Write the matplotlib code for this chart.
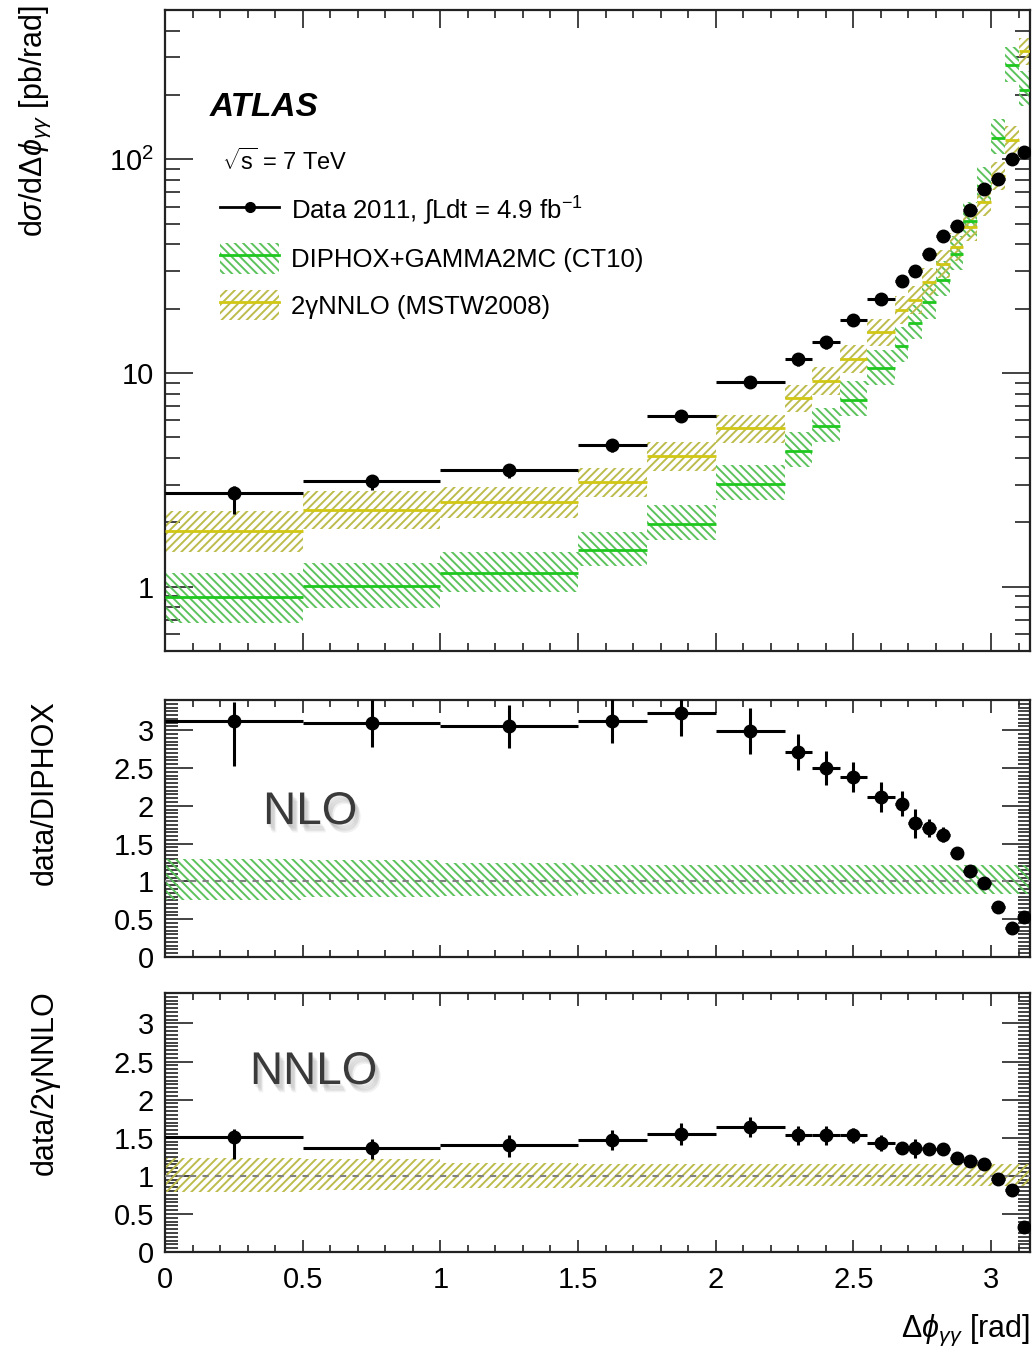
import numpy as np
import matplotlib
matplotlib.use("Agg")
import matplotlib.pyplot as plt
import matplotlib.patheffects as pe
from matplotlib.lines import Line2D
from matplotlib.patches import Patch
from matplotlib.ticker import MultipleLocator, LogLocator, FuncFormatter, NullFormatter

plt.rcParams['font.family'] = ['Liberation Sans', 'DejaVu Sans']
plt.rcParams['mathtext.fontset'] = 'custom'
plt.rcParams['mathtext.rm'] = 'Liberation Sans'
plt.rcParams['mathtext.it'] = 'Liberation Sans:italic'
plt.rcParams['mathtext.bf'] = 'Liberation Sans:bold'
plt.rcParams['hatch.linewidth'] = 1.4

# delta phi binning (rad)
bin_edges = [0.0, 0.5, 1.0, 1.5, 1.75, 2.0, 2.25, 2.35, 2.45, 2.55, 2.65,
             2.70, 2.75, 2.80, 2.85, 2.90, 2.95, 3.00, 3.05, 3.10, np.pi]

# measured cross section [pb/rad]
data_xsec = [2.75, 3.14, 3.53, 4.58, 6.30, 9.12, 11.6, 13.9, 17.7, 22.2,
             26.9, 30.0, 36.0, 43.7, 48.6, 57.8, 72.4, 80.7, 100.0, 108.0]
data_err_up = [0.20, 0.18, 0.20, 0.30, 0.40, 0.60, 0.8, 0.9, 1.0, 1.2,
               1.4, 1.7, 1.6, 1.8, 1.6, 1.8, 2.0, 2.2, 2.5, 2.7]
data_err_dn = [0.55, 0.30, 0.30, 0.30, 0.40, 0.60, 0.8, 0.9, 1.0, 1.2,
               1.4, 1.7, 1.6, 1.8, 1.6, 1.8, 2.0, 2.2, 2.5, 2.7]

# DIPHOX+GAMMA2MC prediction and relative uncertainty
diphox = [0.89, 1.01, 1.16, 1.48, 1.97, 3.03, 4.33, 5.65, 7.5, 10.5,
          13.4, 17.1, 21.4, 27.3, 36.0, 51.6, 75.4, 126.0, 275.0, 212.0]
diphox_rel_up = [0.30, 0.28, 0.25, 0.22, 0.22, 0.22, 0.22, 0.22, 0.22, 0.22,
                 0.22, 0.22, 0.22, 0.22, 0.22, 0.22, 0.22, 0.22, 0.22, 0.22]
diphox_rel_dn = [0.24, 0.21, 0.19, 0.16, 0.16, 0.16, 0.16, 0.16, 0.16, 0.16,
                 0.16, 0.16, 0.16, 0.16, 0.16, 0.16, 0.16, 0.16, 0.16, 0.16]

# 2gammaNNLO prediction and relative uncertainty
nnlo = [1.83, 2.29, 2.49, 3.09, 4.11, 5.51, 7.6, 9.2, 11.6, 15.5,
        19.7, 22.0, 26.7, 32.4, 39.0, 48.0, 63.0, 84.0, 123.0, 320.0]
nnlo_rel_up = [0.24, 0.22, 0.17, 0.16, 0.16, 0.16, 0.16, 0.16, 0.16, 0.16,
               0.16, 0.16, 0.16, 0.16, 0.16, 0.16, 0.16, 0.16, 0.16, 0.16]
nnlo_rel_dn = [0.21, 0.19, 0.16, 0.15, 0.15, 0.15, 0.14, 0.14, 0.14, 0.14,
               0.14, 0.14, 0.14, 0.14, 0.14, 0.14, 0.14, 0.14, 0.14, 0.14]

# data / DIPHOX
ratio_nlo = [3.12, 3.09, 3.05, 3.12, 3.23, 2.99, 2.71, 2.50, 2.38, 2.12,
             2.03, 1.77, 1.71, 1.62, 1.37, 1.14, 0.98, 0.66, 0.39, 0.53]
ratio_nlo_up = [0.25, 0.31, 0.29, 0.29, 0.30, 0.30, 0.24, 0.22, 0.20, 0.20,
                0.17, 0.19, 0.12, 0.10, 0.06, 0.05, 0.04, 0.03, 0.03, 0.03]
ratio_nlo_dn = [0.59, 0.31, 0.29, 0.29, 0.30, 0.30, 0.24, 0.22, 0.20, 0.20,
                0.17, 0.19, 0.12, 0.10, 0.06, 0.05, 0.04, 0.03, 0.03, 0.03]

# data / 2gammaNNLO
ratio_nnlo = [1.51, 1.37, 1.41, 1.47, 1.55, 1.64, 1.53, 1.53, 1.53, 1.43,
              1.36, 1.36, 1.35, 1.35, 1.24, 1.20, 1.15, 0.96, 0.81, 0.33]
ratio_nnlo_up = [0.11, 0.11, 0.12, 0.13, 0.14, 0.13, 0.12, 0.12, 0.10, 0.10,
                 0.08, 0.12, 0.07, 0.06, 0.04, 0.04, 0.03, 0.03, 0.03, 0.03]
ratio_nnlo_dn = [0.29, 0.15, 0.16, 0.13, 0.14, 0.13, 0.12, 0.12, 0.10, 0.10,
                 0.08, 0.12, 0.07, 0.06, 0.04, 0.04, 0.03, 0.03, 0.03, 0.03]

edges = np.array(bin_edges)
lo, hi = edges[:-1], edges[1:]
centers = 0.5 * (lo + hi)
widths = hi - lo

green_hatch = '#5cc25c'
green_line = '#1ec81e'
yellow_hatch = '#bcbc4c'
yellow_line = '#d2c814'
green_pattern = '\\\\\\\\'
yellow_pattern = '////'

W, H = 1033, 1356
fig = plt.figure(figsize=(W / 100, H / 100), dpi=100)


def px_axes(left, top, right, bottom):
    return fig.add_axes([left / W, 1 - bottom / H, (right - left) / W, (bottom - top) / H])


ax_top = px_axes(165, 10, 1030, 651)
ax_nlo = px_axes(165, 700, 1030, 957)
ax_nnlo = px_axes(165, 993, 1030, 1252)


def draw_band(ax, central, rel_up, rel_dn, hatch, hcolor, lcolor=None):
    central = np.array(central)
    upper = central * (1 + np.array(rel_up))
    lower = central * (1 - np.array(rel_dn))
    ax.bar(lo, upper - lower, width=widths, bottom=lower, align='edge',
           fill=False, hatch=hatch, edgecolor=hcolor, linewidth=0, zorder=2)
    if lcolor is not None:
        ax.hlines(central, lo, hi, colors=lcolor, linewidth=2.0, zorder=3)


def draw_points(ax, y, dn, up):
    ax.errorbar(centers, y, xerr=widths / 2, yerr=[dn, up], fmt='o', color='black',
                ms=9, elinewidth=2.2, capsize=0, zorder=5)


def style_frame(ax):
    for s in ax.spines.values():
        s.set_linewidth(1.6)
        s.set_color('#222222')
    ax.set_xlim(0, np.pi)
    ax.xaxis.set_major_locator(MultipleLocator(0.5))
    ax.xaxis.set_minor_locator(MultipleLocator(0.1))
    ax.tick_params(which='both', direction='in', top=True, right=True, width=1.2,
                   color='#222222', labelsize=21)


# soft drop shadow for the NLO / NNLO tags
shadow = [pe.SimplePatchShadow(offset=(dx, -dy), shadow_rgbFace='#8c8c8c', alpha=0.12)
          for dx, dy in [(1, 2), (2, 3), (3, 4), (3, 5), (4, 6)]] + [pe.Normal()]

# upper panel: cross section
draw_band(ax_top, diphox, diphox_rel_up, diphox_rel_dn, green_pattern, green_hatch, green_line)
draw_band(ax_top, nnlo, nnlo_rel_up, nnlo_rel_dn, yellow_pattern, yellow_hatch, yellow_line)
draw_points(ax_top, data_xsec, data_err_dn, data_err_up)
style_frame(ax_top)
ax_top.set_yscale('log')
ax_top.set_ylim(0.5, 500)
ax_top.yaxis.set_major_locator(LogLocator(base=10))
ax_top.yaxis.set_minor_locator(LogLocator(base=10, subs=np.arange(2, 10)))
ax_top.yaxis.set_minor_formatter(NullFormatter())
ax_top.yaxis.set_major_formatter(FuncFormatter(
    lambda v, p: {1: '1', 10: '10', 100: '$10^{2}$'}.get(int(round(v)), '')))
ax_top.tick_params(axis='y', which='major', length=20, pad=8)
ax_top.tick_params(axis='y', which='minor', length=11)
ax_top.tick_params(axis='x', which='major', length=13, labelbottom=False)
ax_top.tick_params(axis='x', which='minor', length=6)

ax_top.text(0.052, 0.848, 'ATLAS', transform=ax_top.transAxes, fontsize=24,
            fontweight='bold', fontstyle='italic', va='center', ha='left')
ax_top.text(0.066, 0.763, r'$\sqrt{\mathrm{s}}$ = 7 TeV', transform=ax_top.transAxes,
            fontsize=17, va='center', ha='left')

handles = [
    Line2D([], [], color='black', marker='o', ms=7, lw=2),
    (Patch(fill=False, hatch=green_pattern, edgecolor=green_hatch, linewidth=0),
     Line2D([], [], color=green_line, lw=2)),
    (Patch(fill=False, hatch=yellow_pattern, edgecolor=yellow_hatch, linewidth=0),
     Line2D([], [], color=yellow_line, lw=2)),
]
labels = [r'Data 2011, $\int$Ldt = 4.9 fb$^{-1}$',
          'DIPHOX+GAMMA2MC (CT10)',
          '2\u03b3NNLO (MSTW2008)']
ax_top.legend(handles, labels, loc='upper left', bbox_to_anchor=(0.064, 0.712),
              frameon=False, fontsize=18.5, borderpad=0, borderaxespad=0,
              handlelength=2.3, handleheight=1.45, handletextpad=0.45,
              labelspacing=0.62)

# ratio panels
for ax, ratio, r_dn, r_up, rel_up, rel_dn, hatch, hc, tag, tag_pos in [
        (ax_nlo, ratio_nlo, ratio_nlo_dn, ratio_nlo_up, diphox_rel_up, diphox_rel_dn,
         green_pattern, green_hatch, 'NLO', (0.168, 0.564)),
        (ax_nnlo, ratio_nnlo, ratio_nnlo_dn, ratio_nnlo_up, nnlo_rel_up, nnlo_rel_dn,
         yellow_pattern, yellow_hatch, 'NNLO', (0.172, 0.695))]:
    draw_band(ax, np.ones(len(centers)), rel_up, rel_dn, hatch, hc)
    ax.axhline(1.0, color='#808080', ls=(0, (3, 3)), lw=1.5, zorder=3)
    draw_points(ax, ratio, r_dn, r_up)
    style_frame(ax)
    ax.set_ylim(0, 3.4)
    ax.yaxis.set_major_locator(MultipleLocator(0.5))
    ax.yaxis.set_minor_locator(MultipleLocator(0.05))
    ax.yaxis.set_major_formatter(FuncFormatter(lambda v, p: '%g' % v))
    ax.tick_params(axis='y', which='major', length=20, pad=8)
    ax.tick_params(axis='y', which='minor', length=9)
    ax.tick_params(axis='x', which='major', length=9)
    ax.tick_params(axis='x', which='minor', length=5)
    ax.text(tag_pos[0], tag_pos[1], tag, transform=ax.transAxes, fontsize=33,
            color='#3a3a3a', ha='center', va='center', path_effects=shadow)

ax_nlo.tick_params(axis='x', labelbottom=False)
ax_nnlo.xaxis.set_major_formatter(FuncFormatter(lambda v, p: '%g' % v))
ax_nnlo.tick_params(axis='x', pad=10)

# axis titles
fig.text(35 / W, 1 - 5 / H, r'd$\sigma$/d$\Delta\phi_{\gamma\gamma}$ [pb/rad]',
         rotation=90, ha='center', va='top', fontsize=22)
fig.text(45 / W, 1 - 700 / H, 'data/DIPHOX', rotation=90, ha='center', va='top',
         fontsize=22)
fig.text(45 / W, 1 - 990 / H, 'data/2\u03b3NNLO', rotation=90, ha='center', va='top',
         fontsize=22)
fig.text(1030 / W, 1 - 1330 / H, r'$\Delta\phi_{\gamma\gamma}$ [rad]', ha='right',
         va='center', fontsize=22)

fig.savefig('out.png', dpi=100)
